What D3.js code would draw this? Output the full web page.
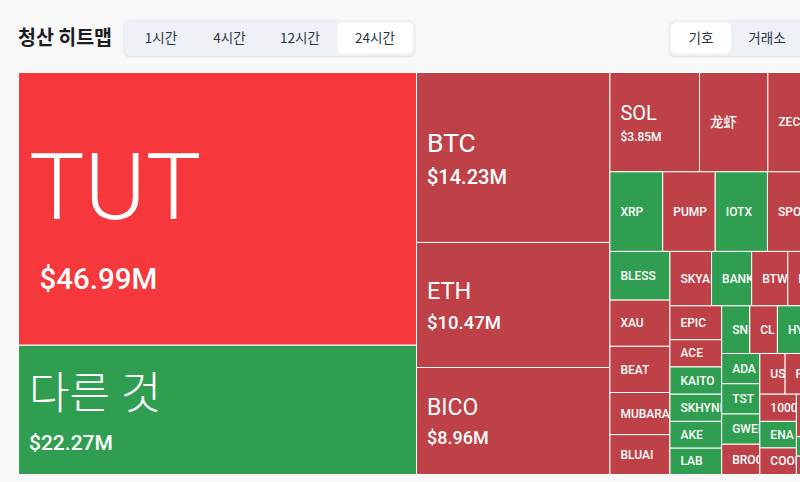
<!DOCTYPE html>
<html><head><meta charset="utf-8">
<script src="https://cdn.jsdelivr.net/npm/d3@7"></script>
<style>
html,body{margin:0;padding:0;background:#f8f8f8;overflow:hidden;width:800px;height:482px}
svg{display:block}
</style></head><body>
<svg id="c" width="800" height="482"></svg>
<script>
// ---- data ----
const title = "청산 히트맵";
const timeTabs = ["1시간", "4시간", "12시간", "24시간"];
const activeTime = "24시간";
const groupTabs = ["기호", "거래소"];
const activeGroup = "기호";

const names = ["TUT","다른 것","BTC","ETH","BICO","SOL","龙虾","ZEC","SUI",
  "XRP","PUMP","IOTX","SPORTFUN","DOGE",
  "BLESS","XAU","BEAT","MUBARAK","BLUAI",
  "SKYAI","BANK","BTW","FHE","ASTER",
  "EPIC","ACE","KAITO","SKHYNIX","AKE","LAB",
  "SNIPE","CL","HYPE","WIF","LINK",
  "ADA","TST","GWEI","BROCCOLI",
  "USELESS","FARTCOIN","AVAX","BNB",
  "1000PEPE","ENA","COOKIE",
  "LTC","TRUMP","ARB","OP","APT","SEI","TIA"];
const values = [46.99,22.27,14.23,10.47,8.96,3.85,2.94,2.00,1.96,
  1.82,1.81,1.80,1.79,1.40,
  1.265,1.20,1.20,1.095,1.035,
  0.98,0.944,0.85,0.85,0.85,
  0.76,0.61,0.61,0.61,0.60,0.59,
  0.58,0.57,0.57,0.57,0.565,
  0.50,0.50,0.50,0.50,
  0.445,0.44,0.44,0.44,
  0.43,0.42,0.42,
  0.41,0.39,0.37,0.35,0.33,0.251,0.11];
// "long" = long positions liquidated (red), "short" = shorts liquidated (green)
const sides = ["long","short","long","long","long","long","long","long","long",
  "short","long","short","long","long",
  "short","long","long","long","long",
  "long","short","long","long","short",
  "long","long","short","short","short","short",
  "short","long","short","long","short",
  "short","short","short","long",
  "long","long","short","long",
  "long","short","long",
  "long","short","long","short","long","short","long"];

// ---- drawing ----
const svg = d3.select("#c");
const fontLatin = "Roboto, 'Noto Sans CJK KR', 'Noto Sans CJK SC', sans-serif";
const fontKR = "'Noto Sans CJK KR', 'Noto Sans', sans-serif";

// header
svg.append("text").attr("x", 18).attr("y", 45)
  .attr("font-family", fontKR).attr("font-weight", 700).attr("font-size", 20)
  .attr("fill", "#1d1d1f").attr("textLength", 94).attr("lengthAdjust", "spacingAndGlyphs")
  .text(title);

function tabGroup(x, tabs, active, widths) {
  const gg = svg.append("g");
  const total = d3.sum(widths) + 6;
  gg.append("rect").attr("x", x).attr("y", 20.5).attr("width", total).attr("height", 37)
    .attr("rx", 7).attr("fill", "#e4e7eb");
  gg.append("rect").attr("x", x).attr("y", 19.5).attr("width", total).attr("height", 36.5)
    .attr("rx", 7).attr("fill", "#edf0f4");
  let cx = x + 3;
  tabs.forEach((t, i) => {
    const w = widths[i];
    if (t === active) {
      gg.append("rect").attr("x", cx).attr("y", 22.5).attr("width", w).attr("height", 31)
        .attr("rx", 5).attr("fill", "#ffffff");
    }
    gg.append("text").attr("x", cx + w / 2).attr("y", 43)
      .attr("text-anchor", "middle").attr("font-family", fontKR)
      .attr("font-size", 13.5).attr("fill", "#2b3445").text(t);
    cx += w;
  });
}
tabGroup(123, timeTabs, activeTime, [70, 67, 74, 76]);
tabGroup(668, groupTabs, activeGroup, [60, 72]);

// treemap
const W = 841.5, H = 402;
const root = d3.hierarchy({children: names.map((n, i) => ({name: n, value: values[i], side: sides[i]}))})
  .sum(d => d.value || 0)
  .sort((a, b) => b.value - a.value);
d3.treemap().tile(d3.treemapSquarify).size([W, H])(root);

const color = d => d.data.side === "short" ? "#2f9e50"
  : (d.value > 30 ? "#f6373b" : "#be4147");
const nameSize = d3.scaleLinear()
  .domain([0, 3, 3.85, 8.96, 10.47, 14.23, 22.27, 46.99])
  .range([12, 12, 20, 23, 23.5, 26.5, 44, 93]).clamp(true);
const valueSize = d3.scaleLinear()
  .domain([3.85, 8.96, 10.47, 14.23, 22.27, 46.99])
  .range([12, 18, 18.5, 20, 21, 29.5]).clamp(true);
const fmt = v => "$" + d3.format(".2f")(v) + "M";
const isHan = s => /[\u4e00-\u9fff]/.test(s);

const g = svg.append("g").attr("transform", "translate(18.5,72.5)");
const cell = g.selectAll("g.cell").data(root.leaves()).join("g")
  .attr("class", "cell")
  .attr("transform", d => `translate(${d.x0},${d.y0})`);
cell.append("clipPath").attr("id", (d, i) => "cp" + i)
  .append("rect").attr("width", d => d.x1 - d.x0).attr("height", d => d.y1 - d.y0);
cell.append("rect")
  .attr("width", d => d.x1 - d.x0).attr("height", d => d.y1 - d.y0)
  .attr("fill", color).attr("stroke", "#ffffff").attr("stroke-width", 1);

const lab = cell.append("g").attr("clip-path", (d, i) => `url(#cp${i})`);
lab.each(function(d) {
  const el = d3.select(this);
  const h = d.y1 - d.y0;
  const fn = nameSize(d.value) + (isHan(d.data.name) ? 1.5 : 0);
  const showVal = d.value >= 3.5;
  const cy = h / 2;
  let nb;
  if (showVal) {
    const fv = valueSize(d.value);
    const lh = 1.5 * (fn + fv);
    nb = cy - lh / 2 + 1.095 * fn;
    const vb = nb + 0.405 * fn + 1.095 * fv;
    el.append("text").attr("x", fn > 60 ? 21 : 10.5).attr("y", vb)
      .attr("font-family", fontLatin).attr("font-size", fv).attr("font-weight", 500)
      .attr("fill", "#ffffff").text(fmt(d.value));
  } else {
    nb = cy + 0.345 * fn;
  }
  el.append("text").attr("x", 10.5).attr("y", nb)
    .attr("font-family", fontLatin).attr("font-size", fn)
    .attr("font-weight", fn > 40 ? 300 : (fn < 15 ? 500 : 400))
    .attr("fill", "#ffffff").text(d.data.name);
});
</script>
</body></html>
